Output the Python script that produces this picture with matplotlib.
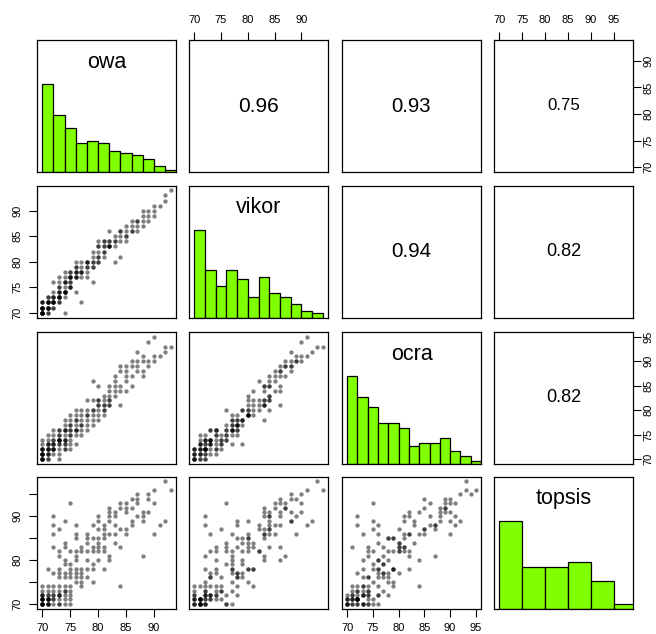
import numpy as np
import matplotlib
matplotlib.use("Agg")
import matplotlib.pyplot as plt

plt.rcParams['font.family'] = ['Liberation Sans', 'DejaVu Sans']

names = ["owa", "vikor", "ocra", "topsis"]

# one row per alternative, grouped by owa score
owa = [70, 70, 70, 70, 70, 70, 70, 70, 70, 70, 70, 70, 70, 70, 70, 70,
       71, 71, 71, 71, 71, 71, 71, 71, 71, 71, 71, 71, 71, 71,
       72, 72, 72, 72, 72, 72, 72, 72, 72, 72, 72, 72,
       73, 73, 73, 73, 73, 73, 73, 73, 73, 73, 73, 73, 73, 73,
       74, 74, 74, 74, 74, 74, 74, 74, 74, 74, 74, 74, 74,
       75, 75, 75, 75, 75, 75, 75, 75, 75, 75, 75,
       76, 76, 76, 76, 76, 76, 76, 76, 76, 76,
       77, 77, 77, 77, 77, 77, 77,
       78, 78, 78, 78, 78, 78, 78,
       79, 79, 79, 79, 79, 79, 79,
       80, 80, 80, 80, 80, 80, 80, 80,
       81, 81, 81, 81, 81, 81, 81,
       82, 82, 82, 82, 82, 82, 82,
       83, 83, 83, 83, 83,
       84, 84, 84, 84, 84,
       85, 85, 85, 85, 85,
       86, 86, 86, 86,
       87, 87, 87, 87,
       88, 88, 88, 88,
       89, 89, 89,
       90, 90, 90,
       91,
       92, 92,
       93]

vikor = [70, 70, 70, 70, 71, 71, 70, 71, 72, 70, 71, 72, 71, 70, 71, 72,
         71, 72, 70, 71, 72, 73, 71, 70, 72, 71, 73, 72, 71, 72,
         72, 73, 72, 71, 72, 76, 72, 73, 71, 72, 74, 73,
         73, 74, 73, 73, 74, 72, 75, 74, 72, 73, 77, 76, 73, 75,
         74, 74, 76, 74, 75, 76, 70, 73, 74, 77, 74, 76, 78,
         76, 77, 75, 77, 78, 75, 76, 77, 78, 75, 77,
         77, 78, 74, 77, 79, 78, 77, 80, 79, 78,
         77, 78, 79, 72, 78, 80, 78,
         79, 80, 78, 79, 77, 80, 80,
         79, 80, 79, 81, 80, 82, 76,
         80, 81, 82, 83, 83, 81, 80, 84,
         84, 82, 83, 81, 84, 83, 82,
         83, 86, 83, 84, 83, 83, 84,
         83, 84, 80, 85, 84,
         81, 85, 86, 84, 86,
         85, 84, 85, 87, 86,
         86, 87, 88, 86,
         88, 87, 86, 88,
         89, 87, 88, 90,
         90, 89, 88,
         91, 90, 89,
         91,
         92, 93,
         94]

ocra = [70, 70, 71, 70, 71, 72, 71, 70, 72, 72, 73, 71, 70, 71, 72, 74,
        71, 72, 70, 73, 71, 72, 74, 72, 70, 71, 73, 72, 75, 73,
        72, 73, 74, 72, 73, 75, 72, 74, 73, 72, 71, 76,
        74, 75, 73, 76, 72, 70, 74, 76, 74, 74, 73, 74, 71, 75,
        76, 74, 77, 73, 73, 74, 72, 74, 76, 78, 72, 76, 75,
        75, 76, 74, 77, 78, 72, 76, 75, 77, 73, 79,
        76, 78, 75, 77, 80, 76, 78, 79, 73, 76,
        76, 77, 78, 75, 79, 80, 77,
        78, 79, 77, 80, 76, 82, 79,
        78, 80, 77, 82, 79, 86, 80,
        79, 81, 82, 78, 85, 80, 81, 82,
        80, 81, 82, 79, 83, 81, 80,
        82, 84, 81, 83, 81, 85, 82,
        84, 85, 83, 87, 86,
        84, 88, 89, 85, 81,
        86, 87, 84, 89, 88,
        85, 89, 90, 87,
        92, 90, 88, 89,
        91, 87, 88, 90,
        94, 90, 89,
        95, 91, 90,
        91,
        92, 93,
        93]

topsis = [70, 71, 70, 72, 71, 70, 74, 71, 72, 71, 70, 73, 70, 72, 71, 70,
          70, 71, 71, 70, 72, 71, 70, 73, 70, 71, 72, 74, 71, 78,
          90, 86, 73, 71, 72, 70, 71, 72, 74, 88, 83, 77,
          82, 78, 76, 72, 77, 70, 73, 72, 81, 74, 70, 72, 71, 87,
          74, 71, 79, 72, 73, 83, 70, 76, 80, 77, 73, 84, 89,
          93, 78, 76, 73, 72, 71, 70, 79, 77, 74, 82,
          86, 85, 82, 81, 77, 76, 75, 78, 80, 88,
          78, 77, 76, 75, 74, 82, 83,
          82, 78, 76, 84, 80, 86, 85,
          85, 83, 79, 78, 75, 88, 82,
          85, 83, 82, 80, 87, 84, 89, 90,
          83, 82, 86, 78, 88, 85, 87,
          81, 80, 86, 89, 90, 92, 91,
          91, 86, 84, 88, 90,
          74, 92, 93, 87, 83,
          93, 87, 86, 92, 91,
          94, 92, 89, 88,
          95, 93, 90, 94,
          90, 81, 89, 91,
          95, 94, 91,
          96, 93, 86,
          88,
          89, 98,
          96]

# correlations printed in the upper panels (row, col)
cor_pairs = [(0, 1), (0, 2), (0, 3), (1, 2), (1, 3), (2, 3)]
cor_values = [0.96, 0.93, 0.75, 0.94, 0.82, 0.82]

hist_step = [2, 2, 2, 5]

data = [np.array(owa), np.array(vikor), np.array(ocra), np.array(topsis)]

W, H = 656, 634
fig = plt.figure(figsize=(W / 100, H / 100), dpi=100)

col_left = [37, 189, 342, 494]
row_top = [40, 185.5, 332, 476.5]
pw, ph = 139, 132

# R style axis limits: range extended by 4%
lims = []
for v in data:
    r = v.max() - v.min()
    lims.append((v.min() - 0.04 * r, v.max() + 0.04 * r))


def ticks_for(lim):
    t = np.arange(np.ceil(lim[0] / 5) * 5, lim[1], 5)
    return [int(x) for x in t]


tick_kw = dict(direction='out', length=5.5, width=0.8, labelsize=8,
               pad=5, colors='black')

for i in range(4):
    for j in range(4):
        ax = fig.add_axes([col_left[j] / W, 1 - (row_top[i] + ph) / H,
                           pw / W, ph / H])
        ax.set_xlim(lims[j])
        for s in ax.spines.values():
            s.set_linewidth(0.9)
            s.set_color('black')
        ax.set_xticks([])
        ax.set_yticks([])

        if i == j:
            v = data[i]
            step = hist_step[i]
            edges = np.arange(70, v.max() + step, step)
            counts = []
            for k in range(len(edges) - 1):
                lo, hi = edges[k], edges[k + 1]
                if k == 0:
                    counts.append(np.sum((v >= lo) & (v <= hi)))
                else:
                    counts.append(np.sum((v > lo) & (v <= hi)))
            counts = np.array(counts, dtype=float)
            ax.set_ylim(0, 1.5)
            ax.bar(edges[:-1], counts / counts.max(), width=step,
                   align='edge', color='#7FFF00', edgecolor='black',
                   linewidth=0.9)
            ax.text(0.5, 0.83, names[i], transform=ax.transAxes,
                    ha='center', va='center', fontsize=15.5)
        elif i > j:
            ax.set_ylim(lims[i])
            ax.plot(data[j], data[i], 'o', color='black', alpha=0.5,
                    markersize=3.1, markeredgewidth=0)
        else:
            ax.set_ylim(lims[i])
            r = cor_values[cor_pairs.index((i, j))]
            ax.text(0.5, 0.5, "%.2f" % r, transform=ax.transAxes,
                    ha='center', va='center', fontsize=1.75 + 13.8 * r)

        # axes on alternating sides like R's pairs()
        if i == 0 and j % 2 == 1:
            t = ticks_for(lims[j])
            ax.set_xticks(t)
            ax.set_xticklabels([str(x) for x in t])
            ax.xaxis.tick_top()
            ax.tick_params(axis='x', **tick_kw)
        if i == 3 and j % 2 == 0:
            t = ticks_for(lims[j])
            ax.set_xticks(t)
            ax.set_xticklabels([str(x) for x in t])
            ax.tick_params(axis='x', **tick_kw)
        if j == 0 and i % 2 == 1:
            t = ticks_for(lims[i])
            ax.set_yticks(t)
            if i == 3:
                labs = [str(x) if x % 10 == 0 else "" for x in t]
            else:
                labs = [str(x) for x in t]
            ax.set_yticklabels(labs, rotation=90, va='center')
            ax.tick_params(axis='y', **tick_kw)
        if j == 3 and i % 2 == 0:
            t = ticks_for(lims[i])
            ax.set_yticks(t)
            ax.set_yticklabels([str(x) for x in t], rotation=90, va='center')
            ax.yaxis.tick_right()
            ax.tick_params(axis='y', **dict(tick_kw, pad=2))

fig.savefig("out.png", dpi=100)
